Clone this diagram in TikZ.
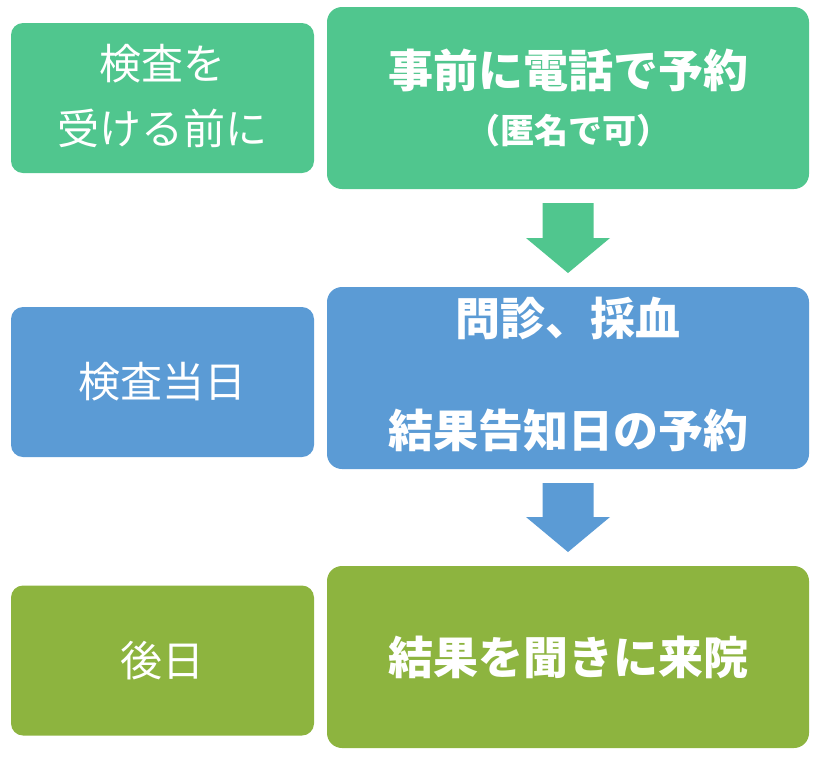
\documentclass[tikz,border=0pt]{standalone}
\usepackage{fontspec}
\setmainfont{Noto Sans CJK JP}
\usetikzlibrary{positioning}
\definecolor{stepgreen}{HTML}{50C68E}
\definecolor{stepblue}{HTML}{5B9BD5}
\definecolor{stepolive}{HTML}{8DB43F}
\tikzset{
    whenbox/.style={rectangle, rounded corners=12pt, text=white, minimum width=303pt, minimum height=150pt, align=center, outer sep=0pt, inner sep=0pt, font=\fontsize{42}{65}\selectfont},
    taskbox/.style={rectangle, rounded corners=15pt, text=white, minimum width=482pt, minimum height=182pt, align=center, outer sep=0pt, inner sep=0pt, font=\fontsize{45}{56}\selectfont\bfseries},
}
% block arrow from the bottom of one box to the top of the next
\newcommand{\flowarrow}[3]{%
    \fill[#3] ([shift={(-25.5pt,-14pt)}]#1.south) -- ([shift={(25.5pt,-14pt)}]#1.south)
        -- ([shift={(25.5pt,49pt)}]#2.north) -- ([shift={(42pt,49pt)}]#2.north)
        -- ([yshift=14pt]#2.north) -- ([shift={(-42pt,49pt)}]#2.north)
        -- ([shift={(-25.5pt,49pt)}]#2.north) -- cycle;}
\begin{document}
\begin{tikzpicture}
    \useasboundingbox (0,0) rectangle (817pt,-756pt);

    % Steps
    \node[taskbox, fill=stepgreen] (call) at (568pt,-98pt) {事前に電話で予約\\{\fontsize{34}{40}\selectfont （匿名で可）}};
    \node[taskbox, fill=stepblue, below=98pt of call] (exam) {問診、採血\\[56pt]結果告知日の予約\rule[-12pt]{0pt}{0pt}};
    \node[taskbox, fill=stepolive, below=97pt of exam] (result) {結果を聞きに来院};

    % When
    \node[whenbox, fill=stepgreen, left=13pt of call] (before) {検査を\\受ける前に\rule[-7pt]{0pt}{0pt}};
    \node[whenbox, fill=stepblue, left=13pt of exam, yshift=-4pt] (day) {検査当日};
    \node[whenbox, fill=stepolive, left=13pt of result, yshift=-3.5pt] (later) {後日};

    % Arrows
    \flowarrow{call}{exam}{stepgreen}
    \flowarrow{exam}{result}{stepblue}
\end{tikzpicture}
\end{document}
